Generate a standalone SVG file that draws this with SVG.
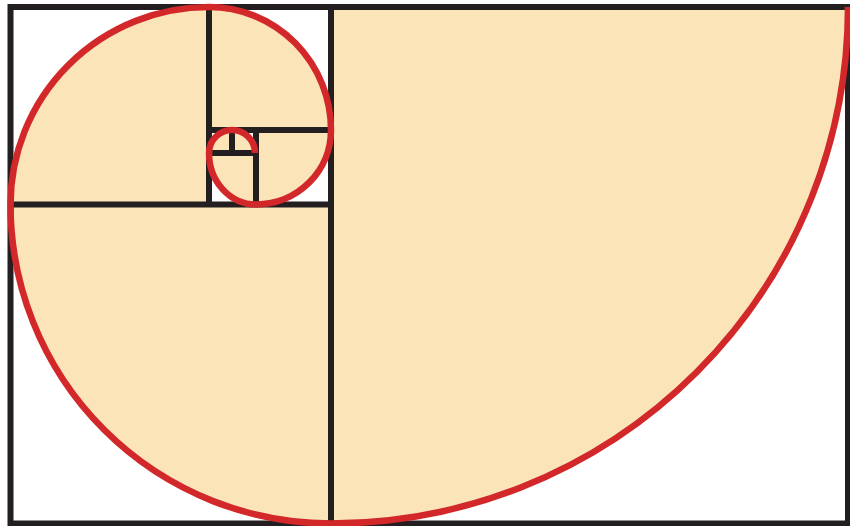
<svg xmlns="http://www.w3.org/2000/svg" width="850" height="526" viewBox="0 0 850 526">
<style>
.fill{fill:#FCE4B9;stroke:none}
.line{stroke:#231F20;stroke-width:6;fill:none}
.spiral{stroke:#D3282A;stroke-width:6.5;fill:none}
</style>
<rect x="0" y="0" width="850" height="526" fill="#FFFFFF"/>
<g id="sectors" class="fill">
<path d="M331,7 L848,7 A517,516.5 0 0 1 331,523.5 Z"/>
<path d="M331,204.5 L331,523.5 A320.5,319 0 0 1 10.5,204.5 Z"/>
<path d="M209,204.5 L10.5,204.5 A198.5,197.5 0 0 1 209,7 Z"/>
<path d="M209,130 L209,7 A122,123 0 0 1 331,130 Z"/>
<path d="M256,130 L331,130 A75,74.5 0 0 1 256,204.5 Z"/>
<path d="M256,153 L256,204.5 A47,51.5 0 0 1 209,153 Z"/>
<path d="M232,153 L209,153 A23,23 0 0 1 232,130 A23,23 0 0 1 255,153 Z"/>
</g>
<g id="squares" class="line">
<rect x="10.5" y="7" width="837.5" height="516.5"/>
<line x1="331" y1="7" x2="331" y2="523.5"/>
<line x1="10.5" y1="204.5" x2="331" y2="204.5"/>
<line x1="209" y1="7" x2="209" y2="204.5"/>
<line x1="209" y1="130" x2="331" y2="130"/>
<line x1="256" y1="130" x2="256" y2="204.5"/>
<line x1="209" y1="153" x2="256" y2="153"/>
<line x1="232" y1="130" x2="232" y2="153"/>
</g>
<g id="spiral">
<path class="spiral" d="M848,7 A517,516.5 0 0 1 331,523.5 A320.5,319 0 0 1 10.5,204.5 A198.5,197.5 0 0 1 209,7 A122,123 0 0 1 331,130 A75,74.5 0 0 1 256,204.5 A47,51.5 0 0 1 209,153 A23,23 0 0 1 232,130 A23,23 0 0 1 255,153"/>
</g>
</svg>
